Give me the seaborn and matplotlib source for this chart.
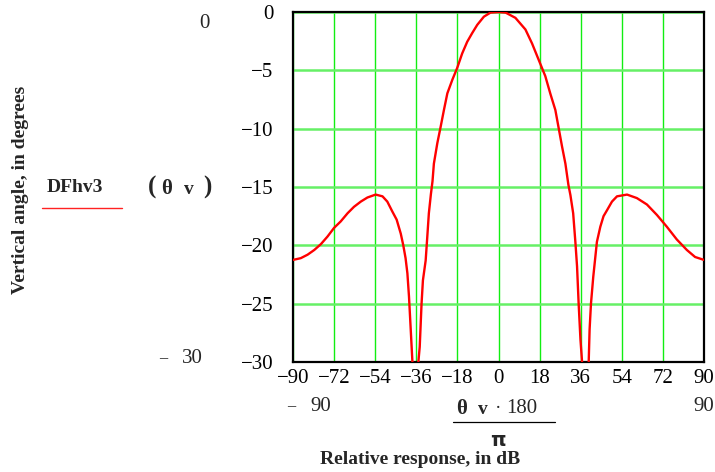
import matplotlib
matplotlib.use("Agg")
import matplotlib.pyplot as plt
from matplotlib.lines import Line2D
import pandas as pd
import seaborn as sns

# Vertical directivity pattern, angle in degrees vs relative response in dB
angle_deg = [
    -90.0, -86.6, -83.6, -80.7, -77.8, -74.9, -72.0, -69.1, -66.1, -63.3,
    -60.3, -57.4, -53.8, -50.8, -48.7, -46.5, -44.6, -42.8, -41.7, -40.7,
    -39.9, -39.2, -38.5, -37.7, -36.4, -35.1, -34.5, -33.7, -33.1, -31.9,
    -31.2, -30.5, -29.6, -28.9, -28.3, -26.8, -25.4, -23.9, -22.4, -20.2,
    -18.1, -15.9, -13.7, -11.5, -9.3, -6.4, -3.5, 0.0,
    3.1, 7.4, 11.8, 14.7, 17.6, 20.5, 22.7, 24.9, 26.4, 27.8,
    29.3, 30.6, 31.5, 32.7, 33.7, 34.4, 35.1, 35.9, 36.6, 38.0,
    39.5, 39.9, 40.5, 41.5, 43.1, 44.6, 46.0, 47.5, 49.7, 51.9,
    56.3, 60.6, 65.0, 69.4, 73.7, 78.1, 82.5, 86.1, 90.0,
]
response_db = [
    -21.25, -21.1, -20.8, -20.4, -19.9, -19.25, -18.5, -17.95, -17.25, -16.7,
    -16.25, -15.9, -15.65, -15.8, -16.25, -17.1, -17.8, -19.0, -20.0, -21.1,
    -22.4, -24.4, -27.0, -30.0, -45.0, -30.0, -28.7, -25.0, -23.0, -21.3,
    -19.3, -17.25, -15.6, -14.5, -13.0, -11.25, -9.9, -8.4, -6.97, -5.8,
    -4.8, -3.55, -2.55, -1.8, -1.1, -0.4, -0.05, 0.0,
    -0.05, -0.5, -1.5, -2.7, -4.1, -5.5, -7.0, -8.4, -10.0, -11.5,
    -13.0, -14.8, -15.7, -17.25, -19.8, -21.8, -25.0, -28.1, -30.0, -45.0,
    -30.0, -27.2, -25.0, -22.7, -19.7, -18.4, -17.5, -17.0, -16.25, -15.8,
    -15.65, -15.95, -16.5, -17.4, -18.4, -19.5, -20.4, -21.0, -21.25,
]

x_ticks = [-90, -72, -54, -36, -18, 0, 18, 36, 54, 72, 90]
x_tick_labels = ["\u221290", "\u221272", "\u221254", "\u221236", "\u221218",
                 "0", "18", "36", "54", "72", "90"]
y_ticks = [0, -5, -10, -15, -20, -25, -30]
y_tick_labels = ["0", "\u22125", "\u221210", "\u221215", "\u221220",
                 "\u221225", "\u221230"]

df = pd.DataFrame({"angle": angle_deg, "response": response_db})

sns.set_style("white")
plt.rcParams["font.family"] = ["Liberation Serif", "DejaVu Serif"]

W, H = 715, 472
fig = plt.figure(figsize=(W / 100, H / 100), dpi=100)


def fx(px):
    return px / W


def fy(py):
    return 1 - py / H


ax = fig.add_axes([fx(293), fy(362), (704 - 293) / W, (362 - 12) / H])

sns.lineplot(data=df, x="angle", y="response", ax=ax, color="#ff0000",
             linewidth=1.7, sort=False, estimator=None, legend=False,
             zorder=3)

ax.set_xlim(-90, 90)
ax.set_ylim(-30, 0)
ax.set_xticks(x_ticks)
ax.set_xticklabels(x_tick_labels)
ax.set_yticks(y_ticks)
ax.set_yticklabels(y_tick_labels)
ax.set_xlabel("")
ax.set_ylabel("")
ax.tick_params(axis="both", length=0, labelsize=15, colors="black")
ax.tick_params(axis="y", pad=14)
ax.tick_params(axis="x", pad=5)

ax.set_axisbelow(True)
ax.grid(False)
ax.xaxis.grid(True, color="#11ee11", linewidth=1.0)
ax.yaxis.grid(True, color="#66f066", linewidth=1.8)
for sp in ax.spines.values():
    sp.set_visible(True)
    sp.set_color("black")
    sp.set_linewidth(1.6)

# Annotation text around the plot area
fig.text(fx(21), fy(190), "Vertical angle, in degrees", rotation=90,
         ha="center", va="center", fontsize=14, fontweight="bold")
fig.text(fx(75), fy(188), "DFhv3", ha="center", va="center",
         fontsize=14, fontweight="bold")
fig.add_artist(Line2D([fx(42), fx(122)], [fy(207.5), fy(207.5)],
                      color="#ff2222", linewidth=1.0))
fig.text(fx(152.5), fy(187), "(", ha="center", va="center", fontsize=18,
         fontweight="bold")
fig.text(fx(166.5), fy(189), "\u03b8", ha="center", va="center",
         fontsize=15, fontweight="bold")
fig.text(fx(188.5), fy(190), "v", ha="center", va="center",
         fontsize=14, fontweight="bold")
fig.text(fx(207), fy(187), ")", ha="center", va="center", fontsize=18,
         fontweight="bold")

fig.text(fx(204), fy(24), "0", ha="center", va="center", fontsize=15)
fig.text(fx(163.5), fy(359), "\u2212", ha="center", va="center",
         fontsize=13, color="#444444")
fig.text(fx(192.5), fy(358.5), "30", ha="center", va="center", fontsize=15)

fig.text(fx(291), fy(407), "\u2212", ha="center", va="center",
         fontsize=13, color="#444444")
fig.text(fx(320.5), fy(406.5), "90", ha="center", va="center", fontsize=15)
fig.text(fx(704), fy(406.5), "90", ha="center", va="center", fontsize=15)

fig.text(fx(461.7), fy(408.5), "\u03b8", ha="center", va="center",
         fontsize=15, fontweight="bold")
fig.text(fx(483), fy(409.5), "v", ha="center", va="center",
         fontsize=14, fontweight="bold")
fig.text(fx(498.5), fy(408.5), "\u00b7", ha="center", va="center",
         fontsize=14)
fig.text(fx(521.7), fy(408.5), "180", ha="center", va="center", fontsize=15)
fig.add_artist(Line2D([fx(453.3), fx(555.3)], [fy(421.7), fy(421.7)],
                      color="black", linewidth=0.9))
fig.text(fx(497.5), fy(441), "\u03c0", ha="center", va="center",
         fontsize=14, fontweight="bold", family=["DejaVu Sans"])
fig.text(fx(419.7), fy(459), "Relative response, in dB", ha="center",
         va="center", fontsize=14, fontweight="bold")

fig.savefig("out.png", dpi=100)
